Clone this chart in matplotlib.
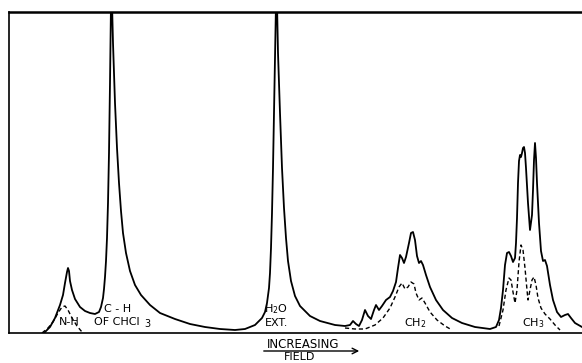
import numpy as np
import matplotlib
matplotlib.use("Agg")
import matplotlib.pyplot as plt

# traced spectrum (solid trace), split in pieces: field position and height above baseline
nh_chcl3_x = [44, 50, 55, 60, 63, 65, 67, 68, 69, 70, 72, 75, 80, 85, 90, 95, 99, 101, 103, 104,
              105, 106, 107, 108, 109, 110, 111]
nh_chcl3_y = [0, 6, 15, 28, 38, 50, 61, 65, 62, 52, 43, 34, 26, 22, 20, 19, 21, 26, 35, 44,
              56, 72, 95, 130, 180, 250, 330]
chcl3_h2o_x = [112, 113, 115, 117, 119, 121, 123, 126, 130, 135, 141, 150, 160, 175, 190, 205,
               220, 235, 245, 255, 262, 265, 267, 269, 270, 271, 272, 273, 274, 275, 276]
chcl3_h2o_y = [330, 290, 230, 185, 150, 122, 100, 80, 62, 48, 38, 28, 20, 14, 9, 6,
               4, 3, 4, 8, 15, 21, 30, 45, 60, 85, 120, 165, 220, 280, 330]
h2o_x = [277, 278, 280, 282, 284, 286, 288, 291, 295, 300, 310, 320, 335, 345]
h2o_y = [330, 280, 220, 165, 125, 95, 72, 52, 37, 27, 17, 12, 8, 7]
ch2_x = [350, 353, 356, 359, 362, 365, 368, 371, 374, 376, 379, 382, 386, 390, 393, 396, 398,
         400, 402, 404, 406, 409, 411, 413, 415, 417, 419, 421, 423, 426, 430, 436, 443, 452,
         462, 475, 490]
ch2_y = [8, 12, 9, 7, 13, 23, 17, 14, 23, 28, 23, 27, 33, 36, 42, 51, 65,
         78, 75, 70, 76, 90, 100, 101, 93, 77, 70, 72, 68, 58, 46, 33, 23, 15,
         10, 6, 4]
ch3_x = [496, 499, 501, 503, 505, 507, 509, 511, 513, 515, 516, 517, 518, 519, 520, 521, 522,
         523, 524, 525, 526, 528, 530, 532, 533, 534, 535, 536, 537, 539, 541, 543, 545, 547,
         550, 553, 557, 561, 565, 568, 571, 575, 582]
ch3_y = [6, 13, 25, 43, 68, 80, 81, 77, 71, 75, 90, 115, 150, 172, 178, 176, 180,
         185, 186, 180, 165, 130, 103, 118, 143, 173, 190, 175, 150, 110, 82, 72, 73, 67,
         48, 33, 21, 16, 18, 19, 15, 10, 6]

# dashed component curves
nh_dash_x = [42, 48, 53, 58, 62, 65, 68, 72, 77, 82]
nh_dash_y = [0, 5, 11, 20, 26, 27, 23, 15, 7, 1]
ch2_dash_x = [345, 355, 365, 375, 383, 390, 395, 399, 402, 405, 408, 411, 414, 416, 419, 422,
              425, 430, 437, 445, 452]
ch2_dash_y = [5, 4, 4, 8, 15, 25, 36, 46, 50, 44, 46, 51, 49, 40, 33, 35, 30, 21, 13, 7, 3]
ch3_dash_x = [499, 503, 506, 509, 511, 513, 515, 517, 519, 521, 523, 525, 527, 528, 530, 532,
              534, 536, 538, 541, 545, 550, 555, 560]
ch3_dash_y = [7, 23, 43, 55, 53, 41, 30, 43, 71, 88, 83, 65, 43, 33, 43, 53, 56, 48, 35, 25,
              19, 14, 8, 3]

solid_x = nh_chcl3_x + chcl3_h2o_x + h2o_x + ch2_x + ch3_x
solid_y = nh_chcl3_y + chcl3_h2o_y + h2o_y + ch2_y + ch3_y

W, H = 582, 363
fig = plt.figure(figsize=(W / 100, H / 100), dpi=100)
ax = fig.add_axes([9 / W, 30 / H, (W - 9) / W, 321 / H])
ax.set_xlim(9, 582)
ax.set_ylim(0, 321)

ax.plot(solid_x, solid_y, color="black", lw=1.3)
for xs, ys in [(nh_dash_x, nh_dash_y), (ch2_dash_x, ch2_dash_y), (ch3_dash_x, ch3_dash_y)]:
    ax.plot(xs, ys, color="black", lw=1.0, ls=(0, (3, 2)))

ax.set_xticks([])
ax.set_yticks([])
ax.spines["right"].set_visible(False)
ax.spines["top"].set_linewidth(1.8)
ax.spines["left"].set_linewidth(1.2)
ax.spines["bottom"].set_linewidth(1.2)

lab = dict(ha="center", va="center", fontsize=8, color="black")
ax.text(69, 11, "N-H", **lab)
ax.text(118, 24, "C - H", **lab)
ax.text(117, 11, "OF CHCl", **lab)
ax.text(147, 9, "3", fontsize=7, ha="center", va="center")
ax.text(276, 24, "H$_2$O", **lab)
ax.text(277, 10, "EXT.", **lab)
ax.text(415, 10, "CH$_2$", **lab)
ax.text(533, 10, "CH$_3$", **lab)

# x label with arrow
ax.text(303, -11, "INCREASING", ha="center", va="center", fontsize=8.5, clip_on=False)
ax.annotate("", xy=(362, -18), xytext=(261, -18), xycoords="data",
            arrowprops=dict(arrowstyle="->", lw=1, color="black"), annotation_clip=False)
ax.text(300, -24, "FIELD", ha="center", va="center", fontsize=8, clip_on=False)

fig.savefig("out.png", dpi=100)
